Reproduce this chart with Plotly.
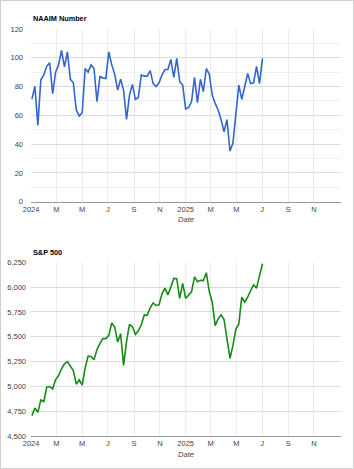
import plotly.graph_objects as go
import pandas as pd

dates = pd.date_range("2024-01-03", periods=79, freq="7D")

naaim = [71.3, 80, 53, 84.5, 88, 94, 96.5, 75, 90, 95,
         105, 93.7, 104, 85, 82.6, 63.7, 59.5, 61.8, 92.5, 90,
         95, 92.5, 69.4, 86.8, 86, 85.6, 104, 95, 88.6, 77.5,
         85, 77.5, 57.2, 74, 81.5, 71, 72.4, 88, 87.2, 87.2,
         91, 82, 80, 82.6, 88, 91.8, 91.8, 98.8, 86.4, 99.5,
         83.3, 81, 64.4, 65.5, 69.4, 86.3, 68.7, 85, 76.4, 92.5,
         88.6, 74, 68.3, 63.7, 56.9, 48.6, 57, 35.2, 40.5, 60,
         81, 71, 81, 89, 82, 82.6, 94, 82, 99.5]

spx = [4705, 4782, 4738, 4863, 4845, 4991, 4998, 4975, 5066, 5109,
       5177, 5228, 5250, 5211, 5160, 5022, 5066, 5012, 5185, 5305,
       5302, 5268, 5370, 5430, 5481, 5481, 5514, 5639, 5598, 5446,
       5531, 5211, 5450, 5625, 5600, 5524, 5560, 5620, 5720, 5715,
       5790, 5841, 5815, 5821, 5932, 5990, 5922, 6000, 6088, 6085,
       5886, 6037, 5886, 5919, 5953, 6104, 6054, 6068, 6066, 6145,
       5955, 5848, 5612, 5680, 5720, 5673, 5477, 5281, 5410, 5578,
       5629, 5899, 5848, 5899, 5966, 6023, 5990, 6101, 6236]

x_tickvals = ["2024-01-01", "2024-03-01", "2024-05-01", "2024-07-01", "2024-09-01",
              "2024-11-01", "2025-01-01", "2025-03-01", "2025-05-01", "2025-07-01",
              "2025-09-01", "2025-11-01"]
x_ticktext = ["2024", "M", "M", "J", "S", "N", "2025", "M", "M", "J", "S", "N"]

FONT = "Liberation Sans, Arial, sans-serif"
W, H = 354, 469

fig = go.Figure()
fig.add_trace(go.Scatter(x=dates, y=naaim, mode="lines",
                         line=dict(color="#3366cc", width=1.6),
                         xaxis="x", yaxis="y", showlegend=False))
fig.add_trace(go.Scatter(x=dates, y=spx, mode="lines",
                         line=dict(color="#178a17", width=1.6),
                         xaxis="x2", yaxis="y2", showlegend=False))

xdom = [31 / W, 341 / W]
y1dom = [1 - 201.7 / H, 1 - 28.9 / H]
y2dom = [1 - 436 / H, 1 - 262.3 / H]
xrange = ["2023-12-31 18:00", "2026-01-04"]

xcommon = dict(range=xrange, tickmode="array", tickvals=x_tickvals, ticktext=x_ticktext,
               showgrid=True, gridcolor="#ebebeb", gridwidth=1, ticks="",
               tickfont=dict(family=FONT, size=7.5, color="#444"),
               showline=True, linecolor="#999", linewidth=1, zeroline=False,
               automargin=False,
               title=dict(text="<i>Date</i>", font=dict(family=FONT, size=7.5, color="#444"), standoff=4),
               fixedrange=True)

fig.update_layout(
    template="none",
    width=W, height=H, autosize=False,
    margin=dict(l=0, r=0, t=0, b=0, pad=0),
    paper_bgcolor="white", plot_bgcolor="white",
    xaxis=dict(domain=xdom, anchor="y", **xcommon),
    xaxis2=dict(domain=xdom, anchor="y2", **xcommon),
    yaxis=dict(domain=y1dom, anchor="x", range=[0, 120], dtick=20, tick0=0,
               showgrid=True, gridcolor="#dcdcdc", ticks="", zeroline=False,
               showline=False, automargin=False,
               tickfont=dict(family=FONT, size=7.5, color="#444"),
               ticklabelstandoff=7,
               minor=dict(dtick=10, showgrid=True, gridcolor="#f0f0f0", ticks="")),
    yaxis2=dict(domain=y2dom, anchor="x2", range=[4500, 6250], dtick=250, tick0=4500,
                showgrid=True, gridcolor="#dcdcdc", ticks="", zeroline=False,
                showline=False, automargin=False,
                tickformat=",", tickfont=dict(family=FONT, size=7.5, color="#444"),
                ticklabelstandoff=4),
    annotations=[
        dict(text="<b>NAAIM Number</b>", xref="paper", yref="paper",
             x=31 / W, y=1 - 18.3 / H, xanchor="left", yanchor="middle", showarrow=False,
             font=dict(family=FONT, size=7.3, color="#000")),
        dict(text="<b>S&P 500</b>", xref="paper", yref="paper",
             x=31 / W, y=1 - 252.5 / H, xanchor="left", yanchor="middle", showarrow=False,
             font=dict(family=FONT, size=7.3, color="#000")),
    ],
    shapes=[
        dict(type="line", xref="x", yref="y domain", x0="2025-01-01", x1="2025-01-01",
             y0=0, y1=1, line=dict(color="#cccccc", width=1), layer="below"),
        dict(type="line", xref="x2", yref="y2 domain", x0="2025-01-01", x1="2025-01-01",
             y0=0, y1=1, line=dict(color="#cccccc", width=1), layer="below"),
        dict(type="rect", xref="paper", yref="paper", x0=0.5 / W, y0=0.5 / H,
             x1=1 - 0.5 / W, y1=1 - 0.5 / H, line=dict(color="#cfcfcf", width=1),
             fillcolor="rgba(0,0,0,0)"),
    ],
)

fig.write_html("out.html")
